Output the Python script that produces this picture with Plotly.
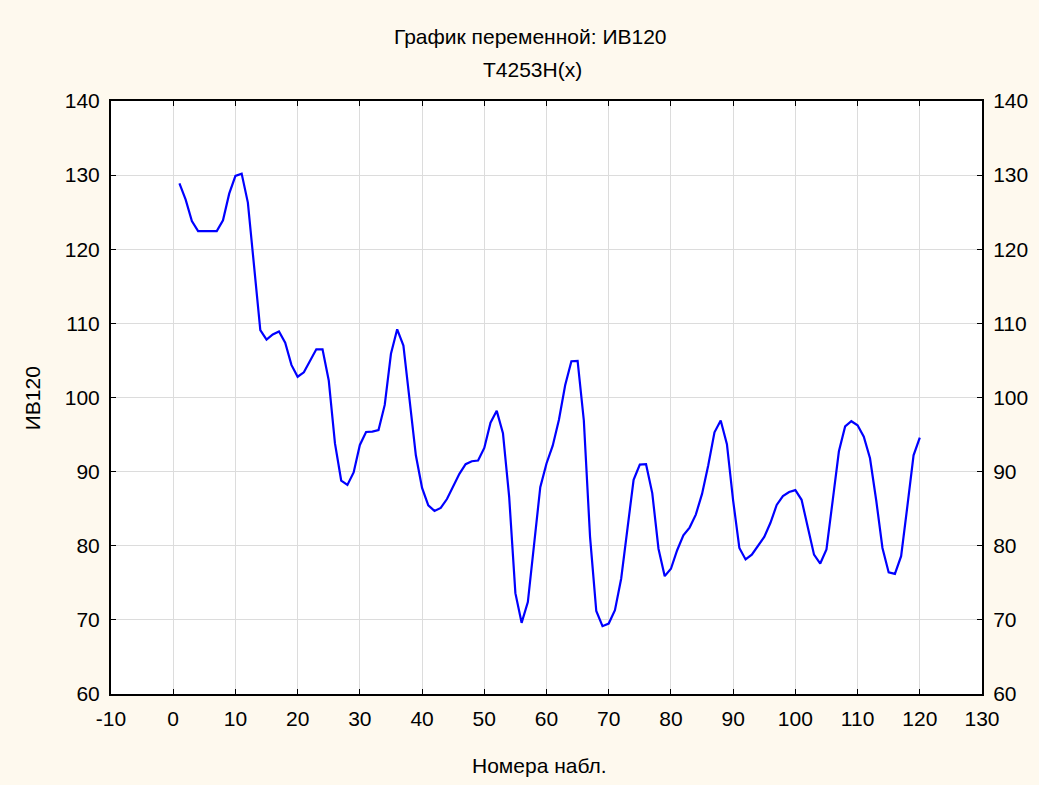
import plotly.graph_objects as go

# Observation numbers and smoothed series values (T4253H)
obs = list(range(1, 121))
iv120 = [
    128.9, 126.7, 123.8, 122.45, 122.45, 122.45, 122.45, 123.9, 127.5, 129.9,
    130.2, 126.3, 117.5, 109.1, 107.8, 108.5, 108.9, 107.4, 104.4, 102.8,
    103.4, 104.9, 106.5, 106.5, 102.3, 93.8, 88.8, 88.2, 89.9, 93.6,
    95.35, 95.4, 95.6, 99.0, 105.9, 109.2, 107.0, 99.6, 92.2, 87.8,
    85.45, 84.7, 85.1, 86.3, 88.05, 89.7, 91.0, 91.4, 91.5, 93.2,
    96.6, 98.2, 95.2, 86.6, 73.6, 69.6, 72.4, 80.05, 87.9, 91.1,
    93.5, 97.0, 101.65, 104.9, 104.95, 96.9, 81.2, 71.2, 69.15, 69.5,
    71.3, 75.55, 82.5, 88.9, 90.95, 91.0, 87.1, 79.6, 75.9, 76.9,
    79.4, 81.4, 82.45, 84.2, 87.0, 90.85, 95.3, 96.9, 93.7, 86.1,
    79.7, 78.15, 78.8, 80.05, 81.2, 83.1, 85.5, 86.7, 87.25, 87.5,
    86.2, 82.5, 78.8, 77.6, 79.5, 86.1, 92.75, 96.1, 96.8, 96.25,
    94.7, 91.8, 86.1, 79.7, 76.4, 76.2, 78.6, 85.3, 92.2, 94.6,
]

x_ticks = list(range(-10, 131, 10))
x_tick_text = [str(v) for v in x_ticks]  # plain hyphen for "-10"
y_ticks = list(range(60, 141, 10))
y_tick_text = [str(v) for v in y_ticks]

FONT = "Liberation Sans, Arial, sans-serif"
BG = "#FEF9EE"
GRID = "#DCDCDC"
FS = 21

fig = go.Figure()
fig.add_trace(go.Scatter(
    x=obs, y=iv120, mode="lines",
    line=dict(color="#0000FF", width=2.2),
    showlegend=False, hoverinfo="x+y",
))
# same series on the right-hand axis (invisible) so that axis is drawn
fig.add_trace(go.Scatter(
    x=obs, y=iv120, mode="lines", yaxis="y2",
    line=dict(color="rgba(0,0,0,0)", width=0),
    showlegend=False, hoverinfo="skip",
))

axis_common = dict(
    showline=True, linecolor="black", linewidth=2,
    ticks="inside", ticklen=5, tickcolor="black", tickwidth=1,
    showgrid=True, gridcolor=GRID, gridwidth=1,
    zeroline=False,
    tickfont=dict(family=FONT, size=FS, color="black"),
)

fig.update_layout(
    width=1039, height=785,
    paper_bgcolor=BG, plot_bgcolor="white",
    margin=dict(l=111, r=57, t=101, b=91),
    xaxis=dict(
        range=[-10, 130], tickvals=x_ticks, ticktext=x_tick_text,
        mirror="ticks", ticklabelstandoff=5, **axis_common,
    ),
    yaxis=dict(
        range=[60, 140], tickvals=y_ticks, ticktext=y_tick_text,
        ticklabelstandoff=5, **axis_common,
    ),
    yaxis2=dict(
        range=[60, 140], tickvals=y_ticks, ticktext=y_tick_text,
        overlaying="y", side="right",
        ticklabelstandoff=5, **{**axis_common, "showgrid": False},
    ),
    annotations=[
        dict(text="График переменной: ИВ120", x=0.482, y=1.108,
             xref="paper", yref="paper", showarrow=False,
             xanchor="center", yanchor="middle",
             font=dict(family=FONT, size=FS, color="black")),
        dict(text="T4253H(x)", x=0.4845, y=1.0523,
             xref="paper", yref="paper", showarrow=False,
             xanchor="center", yanchor="middle",
             font=dict(family=FONT, size=FS, color="black")),
        dict(text="Номера набл.", x=0.4925, y=-0.1207,
             xref="paper", yref="paper", showarrow=False,
             xanchor="center", yanchor="middle",
             font=dict(family=FONT, size=FS, color="black")),
        dict(text="ИВ120", x=-0.0907, y=0.4987, textangle=-90,
             xref="paper", yref="paper", showarrow=False,
             xanchor="center", yanchor="middle",
             font=dict(family=FONT, size=FS, color="black")),
    ],
)

fig.write_html("out.html")
